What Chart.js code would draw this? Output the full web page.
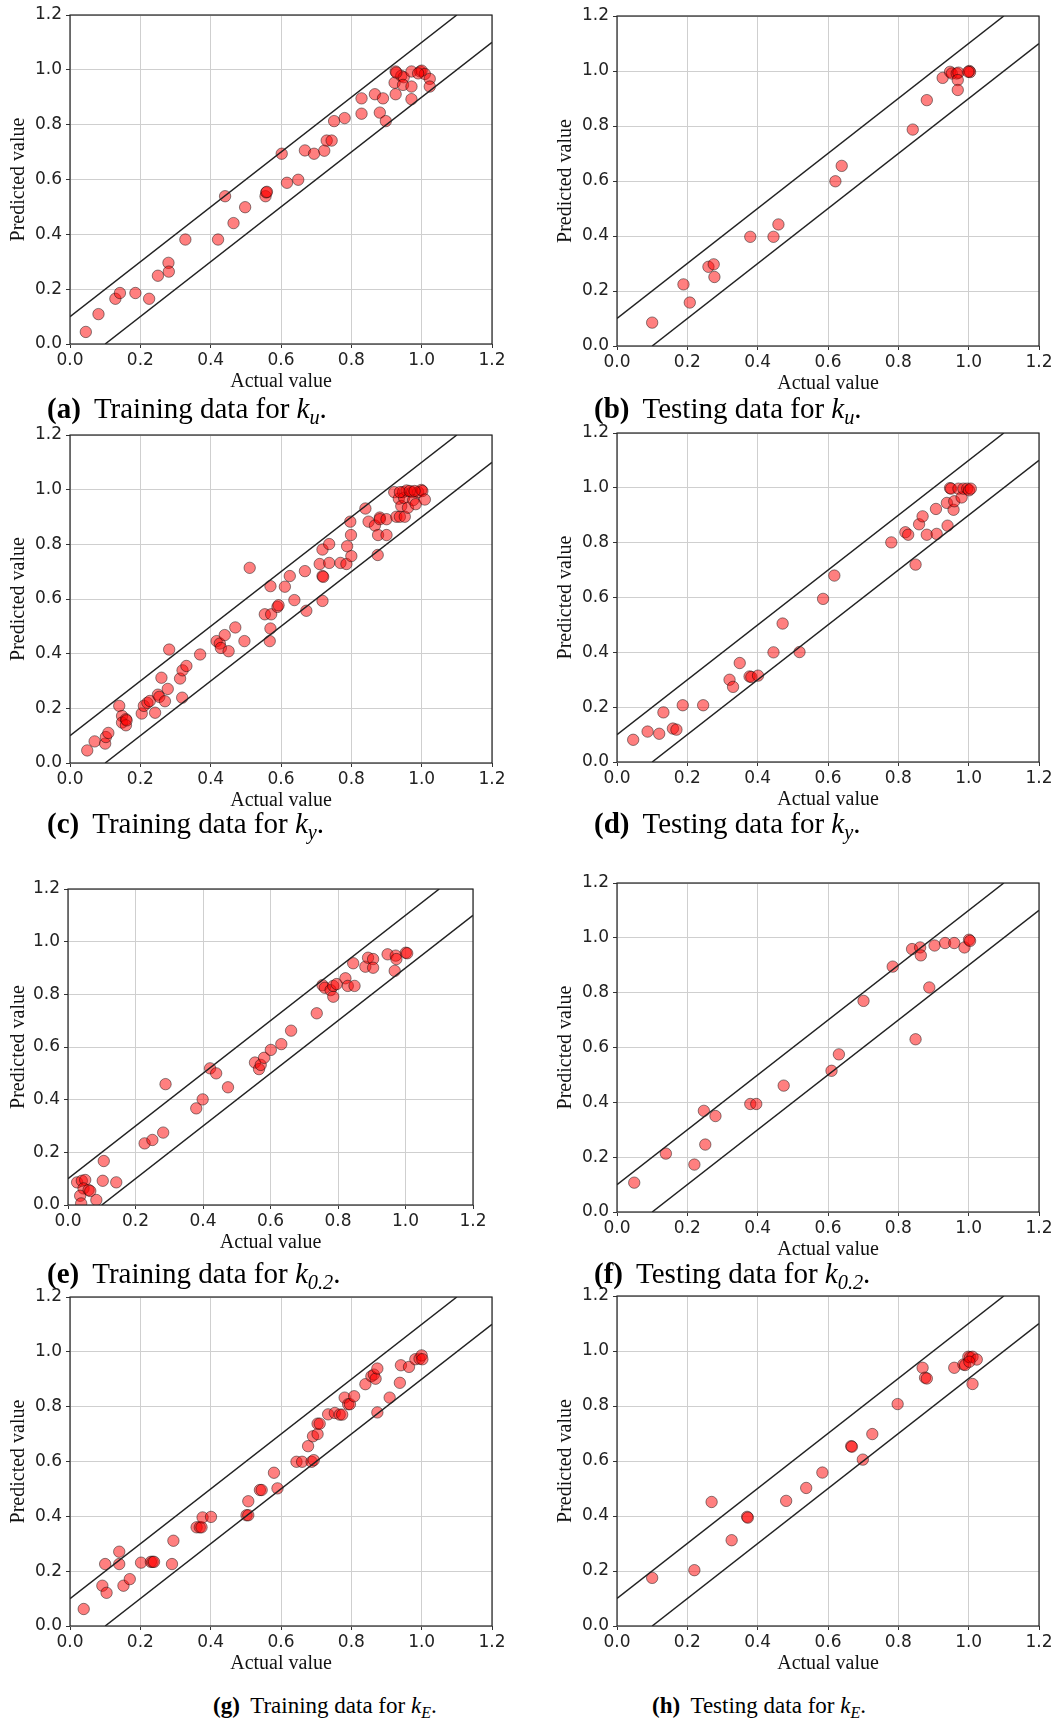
<!DOCTYPE html>
<html>
<head>
<meta charset="utf-8">
<script src="https://cdn.jsdelivr.net/npm/chart.js@4"></script>
<style>
  html, body { margin: 0; padding: 0; background: #fff; }
  #page { position: relative; width: 1057px; height: 1720px; overflow: hidden; }
  canvas { position: absolute; }
  .cap { position: absolute; font-family: 'Liberation Serif', 'Times New Roman', serif; line-height: 1; white-space: nowrap; color: #000; }
  .cap b { margin-right: .45em; }
  .cap sub { font-size: .7em; vertical-align: -.3em; font-style: italic; }
</style>
</head>
<body>
<div id="page"></div>
<script>
// axis range shared by every panel
const axisMin = 0;
const axisMax = 1.2;
const tickStep = 0.2;
const bandOffset = 0.1;   // +/- 10% lines

// (a) training k_u
const trainKuActual = [0.045,0.081,0.129,0.142,0.186,0.225,0.25,0.28,0.281,0.328,0.421,0.441,0.465,0.498,0.556,0.558,0.56,0.602,0.617,0.649,0.668,0.694,0.723,0.730,0.744,0.751,0.781,0.829,0.829,0.867,0.890,0.881,0.898,0.926,0.926,0.923,0.942,0.949,0.947,0.971,0.971,0.971,0.996,1.0,1.009,1.023,1.023,0.928,0.990];
const trainKuPred   = [0.044,0.109,0.165,0.186,0.186,0.165,0.249,0.296,0.264,0.381,0.381,0.539,0.441,0.499,0.539,0.553,0.555,0.694,0.588,0.599,0.706,0.694,0.705,0.742,0.742,0.813,0.824,0.896,0.840,0.911,0.896,0.844,0.813,0.911,0.994,0.953,0.978,0.973,0.945,0.994,0.939,0.893,0.994,0.997,0.985,0.967,0.939,0.990,0.987];

// (b) testing k_u
const testKuActual = [0.100,0.189,0.207,0.260,0.275,0.277,0.379,0.445,0.459,0.621,0.639,0.841,0.881,0.926,0.947,0.952,0.966,0.971,0.969,0.969,1.002,1.004,0.999];
const testKuPred   = [0.085,0.224,0.158,0.288,0.297,0.251,0.397,0.397,0.442,0.599,0.655,0.787,0.894,0.975,0.997,0.991,0.991,0.994,0.967,0.931,1.0,0.996,0.997];

// (c) training k_y
const trainKyActual = [0.049,0.070,0.100,0.102,0.109,0.140,0.148,0.148,0.159,0.159,
  0.161,0.204,0.210,0.220,0.227,0.242,0.250,0.254,0.260,0.270,
  0.278,0.282,0.313,0.319,0.320,0.331,0.370,0.417,0.426,0.429,
  0.440,0.451,0.470,0.496,0.511,0.554,0.570,0.572,0.570,0.568,
  0.590,0.593,0.611,0.625,0.638,0.668,0.672,0.710,0.718,0.720,
  0.718,0.718,0.737,0.737,0.769,0.786,0.788,0.797,0.799,0.800,
  0.840,0.849,0.867,0.876,0.875,0.881,0.881,0.900,0.900,0.922,
  0.928,0.935,0.938,0.942,0.947,0.950,0.952,0.957,0.961,0.973,
  0.976,0.983,0.990,0.999,1.002,1.009,0.938,0.966,0.980];
const trainKyPred = [0.046,0.079,0.071,0.095,0.110,0.209,0.172,0.148,0.160,0.138,
  0.156,0.181,0.209,0.220,0.227,0.184,0.250,0.242,0.312,0.226,
  0.271,0.415,0.309,0.239,0.339,0.355,0.397,0.446,0.437,0.421,
  0.468,0.409,0.496,0.446,0.714,0.544,0.647,0.544,0.492,0.446,
  0.571,0.577,0.645,0.684,0.596,0.702,0.557,0.728,0.684,0.681,
  0.781,0.593,0.801,0.732,0.732,0.728,0.793,0.883,0.834,0.757,
  0.931,0.883,0.869,0.834,0.761,0.898,0.892,0.892,0.834,0.991,
  0.901,0.967,0.901,0.940,0.991,0.970,0.901,0.997,0.934,0.991,
  0.962,0.947,0.991,0.999,0.995,0.964,0.991,0.995,0.995];

// (d) testing k_y
const testKyActual = [0.046,0.087,0.120,0.132,0.159,0.169,0.187,0.245,0.320,0.330,0.349,0.377,0.382,0.401,0.445,0.471,0.519,0.586,0.618,0.780,0.820,0.828,0.849,0.859,0.869,0.881,0.907,0.909,0.938,0.940,0.947,0.950,0.957,0.959,0.971,0.980,0.985,0.996,1.001,1.006];
const testKyPred   = [0.081,0.111,0.103,0.181,0.122,0.118,0.207,0.207,0.300,0.274,0.361,0.312,0.310,0.315,0.400,0.505,0.401,0.595,0.680,0.801,0.838,0.829,0.720,0.867,0.896,0.829,0.923,0.832,0.945,0.862,0.999,0.997,0.920,0.951,0.997,0.965,0.997,0.997,0.991,0.997];

// (e) training k_0.2
const trainK02Actual = [0.027,0.041,0.051,0.046,0.036,0.039,0.061,0.066,0.084,0.103,0.106,0.143,0.227,0.250,0.282,0.289,0.380,0.399,0.421,0.439,0.474,0.554,0.566,0.571,0.581,0.601,0.632,0.661,0.737,0.754,0.761,0.778,0.786,0.786,0.796,0.822,0.829,0.849,0.845,0.881,0.889,0.904,0.904,0.947,0.968,0.971,0.973,1.001,1.005];
const trainK02Pred   = [0.086,0.092,0.095,0.063,0.035,0.006,0.057,0.053,0.019,0.092,0.167,0.086,0.234,0.247,0.275,0.459,0.367,0.401,0.519,0.500,0.447,0.541,0.516,0.532,0.559,0.589,0.611,0.662,0.728,0.835,0.825,0.816,0.791,0.832,0.839,0.861,0.832,0.832,0.918,0.905,0.939,0.934,0.901,0.952,0.889,0.947,0.934,0.958,0.956];

// (f) testing k_0.2
const testK02Actual = [0.049,0.139,0.220,0.247,0.251,0.280,0.379,0.396,0.474,0.610,0.631,0.701,0.784,0.839,0.849,0.862,0.864,0.888,0.903,0.933,0.959,0.988,1.001,1.004];
const testK02Pred   = [0.107,0.213,0.173,0.369,0.246,0.350,0.394,0.394,0.461,0.515,0.575,0.770,0.895,0.959,0.630,0.965,0.936,0.819,0.972,0.981,0.981,0.965,0.993,0.989];

// (g) training k_E
const trainKeActual = [0.039,0.092,0.100,0.104,0.140,0.140,0.152,0.170,0.202,0.230,0.235,0.239,0.290,0.294,0.360,0.369,0.374,0.377,0.401,0.502,0.507,0.507,0.540,0.545,0.580,0.590,0.644,0.660,0.677,0.687,0.693,0.691,0.704,0.704,0.710,0.734,0.753,0.767,0.774,0.781,0.791,0.796,0.808,0.840,0.857,0.864,0.869,0.874,0.874,0.909,0.938,0.941,0.964,0.982,0.994,1.000,1.002];
const trainKePred   = [0.062,0.147,0.226,0.121,0.271,0.226,0.147,0.171,0.231,0.234,0.234,0.234,0.226,0.311,0.360,0.360,0.360,0.396,0.398,0.404,0.404,0.455,0.496,0.496,0.559,0.502,0.599,0.599,0.656,0.599,0.605,0.692,0.700,0.738,0.738,0.772,0.777,0.771,0.771,0.833,0.809,0.809,0.838,0.882,0.911,0.917,0.902,0.939,0.779,0.833,0.887,0.951,0.945,0.973,0.975,0.987,0.973];

// (h) testing k_E
const testKeActual = [0.100,0.220,0.269,0.326,0.370,0.372,0.481,0.538,0.584,0.666,0.668,0.699,0.726,0.798,0.869,0.876,0.881,0.959,0.985,0.990,0.999,1.004,1.011,1.023,1.011,1.002];
const testKePred   = [0.175,0.203,0.451,0.312,0.397,0.394,0.455,0.502,0.558,0.654,0.652,0.605,0.698,0.807,0.939,0.903,0.900,0.939,0.951,0.949,0.979,0.977,0.979,0.969,0.880,0.961];

// chart area of each panel in page pixels: [left, top, right, bottom]
const panels = [
  { box: [70, 15, 492, 344],    actual: trainKuActual,  pred: trainKuPred },
  { box: [617, 16, 1039, 346],  actual: testKuActual,   pred: testKuPred },
  { box: [70, 435, 492, 763],   actual: trainKyActual,  pred: trainKyPred },
  { box: [617, 433, 1039, 762], actual: testKyActual,   pred: testKyPred },
  { box: [68, 889, 473, 1205],  actual: trainK02Actual, pred: trainK02Pred },
  { box: [617, 883, 1039, 1212],actual: testK02Actual,  pred: testK02Pred },
  { box: [70, 1297, 492, 1626], actual: trainKeActual,  pred: trainKePred },
  { box: [617, 1296, 1039, 1626],actual: testKeActual,  pred: testKePred }
];

const captions = [
  { left: 47,  base: 418,  size: 29, html: '<b>(a)</b>Training data for <i>k</i><sub>u</sub>.' },
  { left: 594, base: 418,  size: 29, html: '<b>(b)</b>Testing data for <i>k</i><sub>u</sub>.' },
  { left: 47,  base: 833,  size: 29, html: '<b>(c)</b>Training data for <i>k</i><sub>y</sub>.' },
  { left: 594, base: 833,  size: 29, html: '<b>(d)</b>Testing data for <i>k</i><sub>y</sub>.' },
  { left: 47,  base: 1283, size: 29, html: '<b>(e)</b>Training data for <i>k</i><sub>0.2</sub>.' },
  { left: 594, base: 1283, size: 29, html: '<b>(f)</b>Testing data for <i>k</i><sub>0.2</sub>.' },
  { left: 213, base: 1713, size: 23, html: '<b>(g)</b>Training data for <i>k</i><sub>E</sub>.' },
  { left: 652, base: 1713, size: 23, html: '<b>(h)</b>Testing data for <i>k</i><sub>E</sub>.' }
];

const page = document.getElementById('page');

// black box around the plot area
const framePlugin = {
  id: 'frame',
  afterDraw(chart) {
    const { ctx, chartArea: a } = chart;
    ctx.save();
    ctx.strokeStyle = '#222';
    ctx.lineWidth = 1.2;
    ctx.strokeRect(a.left, a.top, a.right - a.left, a.bottom - a.top);
    ctx.restore();
  }
};

const tickFont = { family: "'DejaVu Sans', sans-serif", size: 17 };
const titleFont = { family: "'Liberation Serif', 'Times New Roman', serif", size: 20 };
const X_AXIS_H = 50;
const PAD_TOP = 15, PAD_RIGHT = 30;

panels.forEach(p => {
    const [L, T, R, B] = p.box;
    const cLeft = Math.max(0, L - 70);
    const yw = L - cLeft;
    const canvas = document.createElement('canvas');
    canvas.width = R - cLeft + PAD_RIGHT;
    canvas.height = (B - T) + PAD_TOP + X_AXIS_H;
    canvas.style.left = cLeft + 'px';
    canvas.style.top = (T - PAD_TOP) + 'px';
    page.appendChild(canvas);

    const points = p.actual.map((v, i) => ({ x: v, y: p.pred[i] }));

    new Chart(canvas, {
        type: 'scatter',
        data: {
            datasets: [
                {
                    data: [{ x: axisMin, y: axisMin + bandOffset }, { x: axisMax - bandOffset, y: axisMax }],
                    showLine: true,
                    borderColor: '#222',
                    borderWidth: 1.5,
                    pointRadius: 0,
                    order: 0
                },
                {
                    data: [{ x: axisMin + bandOffset, y: axisMin }, { x: axisMax, y: axisMax - bandOffset }],
                    showLine: true,
                    borderColor: '#222',
                    borderWidth: 1.5,
                    pointRadius: 0,
                    order: 0
                },
                {
                    data: points,
                    backgroundColor: 'rgba(255, 0, 0, 0.5)',
                    borderColor: 'rgba(0, 0, 0, 0.45)',
                    borderWidth: 1,
                    pointRadius: 5.7,
                    order: 1
                }
            ]
        },
        options: {
            responsive: false,
            animation: false,
            devicePixelRatio: 1,
            layout: { padding: { left: 0, top: PAD_TOP, right: PAD_RIGHT, bottom: 0 } },
            plugins: { legend: { display: false }, tooltip: { enabled: false } },
            scales: {
                x: {
                    type: 'linear',
                    min: axisMin,
                    max: axisMax,
                    afterFit: s => { s.height = X_AXIS_H; },
                    ticks: { stepSize: tickStep, font: tickFont, color: '#222', padding: 2, maxRotation: 0,
                             callback: v => v.toFixed(1) },
                    grid: { color: '#cfcfcf', lineWidth: 1, tickColor: '#333', tickLength: 4 },
                    border: { display: false },
                    title: { display: true, text: 'Actual value', font: titleFont, color: '#111', padding: { top: 0, bottom: 0 } }
                },
                y: {
                    type: 'linear',
                    min: axisMin,
                    max: axisMax,
                    afterFit: s => { s.width = yw; },
                    ticks: { stepSize: tickStep, font: tickFont, color: '#222', padding: 4,
                             callback: v => v.toFixed(1) },
                    grid: { color: '#cfcfcf', lineWidth: 1, tickColor: '#333', tickLength: 4 },
                    border: { display: false },
                    title: { display: true, text: 'Predicted value', font: titleFont, color: '#111', padding: { top: 6.5, bottom: 0 } }
                }
            }
        },
        plugins: [framePlugin]
    });
});

captions.forEach(c => {
    const d = document.createElement('div');
    d.className = 'cap';
    d.style.fontSize = c.size + 'px';
    d.style.left = c.left + 'px';
    d.style.top = (c.base - 0.8375 * c.size) + 'px';
    d.innerHTML = c.html;
    page.appendChild(d);
});
</script>
</body>
</html>
